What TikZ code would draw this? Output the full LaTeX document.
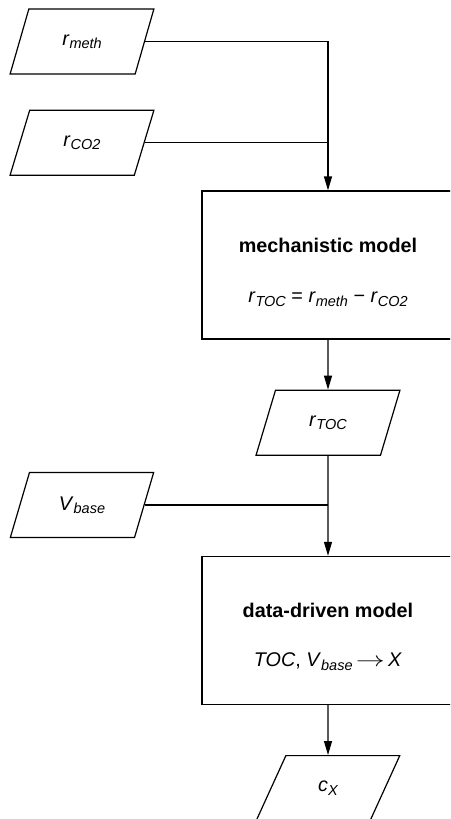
\documentclass[tikz,border=0pt]{standalone}
\usepackage{fontspec}
\setmainfont{Liberation Sans}
\usetikzlibrary{arrows.meta,positioning,shapes.geometric}

\newcommand{\lsub}[1]{\raisebox{-0.32ex}{\fontsize{14.5}{14.5}\selectfont\itshape #1}}
\newcommand{\vr}{\textit{r}}
\newcommand{\lto}{\,\scalebox{1.4}[1]{$\rightarrow$}\,}

\begin{document}
\begin{tikzpicture}[x=1pt,y=-1pt,>={Triangle[length=14pt,width=8pt]},line width=1.2pt,
	font=\fontsize{19.8}{22}\selectfont,
	io/.style={draw,trapezium,trapezium left angle=63.8,trapezium right angle=116.2,
		trapezium stretches=true,minimum width=144pt,minimum height=65pt,inner sep=0pt},
	model/.style={draw,rectangle,minimum width=252pt,minimum height=148pt,align=center}]
	\clip (0,0) rectangle (450,819);
	\node[io] (rmeth) at (82,41.5) {\vr\lsub{meth}};
	\node[io] [below=35pt of rmeth] (rco2) {\vr\lsub{CO2}};
	\node[model] (mech) at (328,265) {\rule{0pt}{29pt}\textbf{mechanistic model}\\[28pt]
		\vr\lsub{TOC} = \vr\lsub{meth} − \vr\lsub{CO2}};
	\node[io] [below=50pt of mech] (rtoc) {\vr\lsub{TOC}};
	\node[io] (vbase) at (82,505) {\textit{V}\lsub{base}};
	\node[model] [below=100pt of rtoc] (ddm) {\rule{0pt}{27pt}\textbf{data-driven model}\\[27pt]
		\textit{TOC}, \textit{V}\lsub{base}\lto\textit{X}};
	\node[io] [below=50pt of ddm] (cx) {\textit{c}\lsub{X}};
	% connectors
	\draw[->] (rmeth.east) -| (mech.north);
	\draw (rco2.east) -- (rco2.east -| mech.north);
	\draw[->] (mech) -- (rtoc);
	\draw[->] (rtoc) -- (ddm);
	\draw (vbase.east) -- (vbase.east -| ddm.north);
	\draw[->] (ddm) -- (cx);
\end{tikzpicture}
\end{document}
